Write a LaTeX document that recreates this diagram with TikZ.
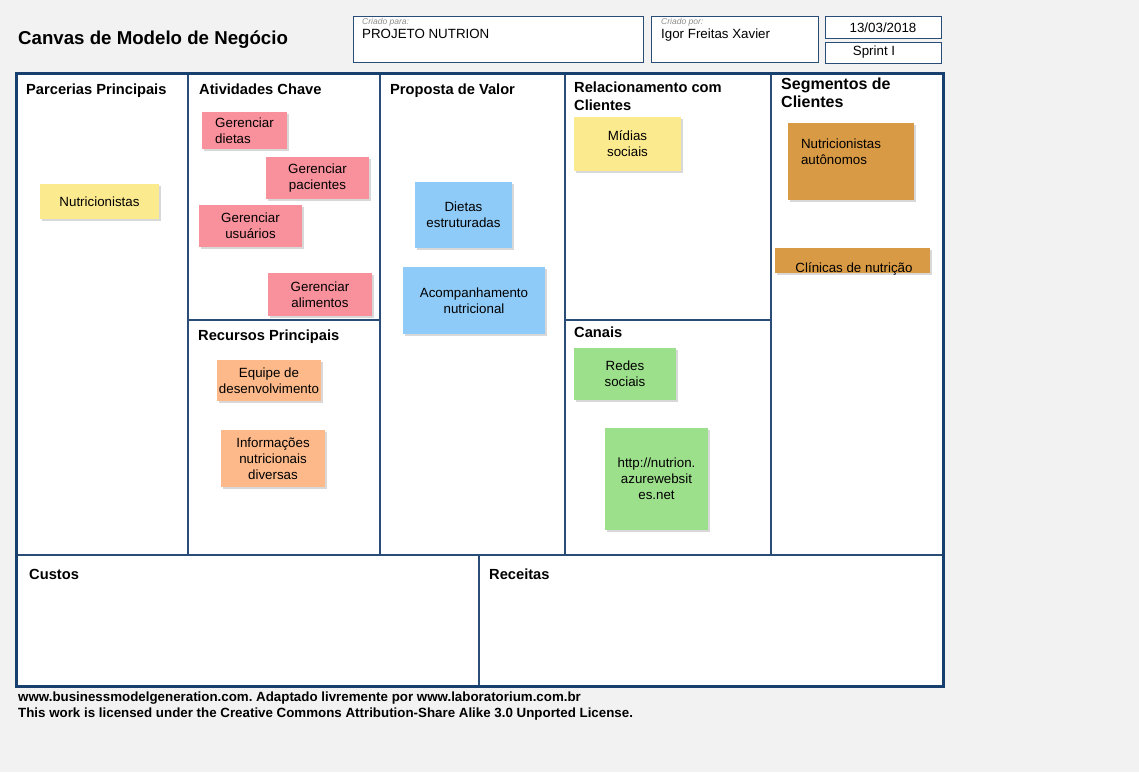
\documentclass[tikz,border=0pt]{standalone}
\usepackage{fontspec}
\setmainfont{Liberation Sans}
\usepackage{tikz}
\usetikzlibrary{positioning}
\usetikzlibrary{shadows}

\definecolor{pageGray}{HTML}{F2F2F2}
\definecolor{frameBlue}{HTML}{17406E}
\definecolor{lineBlue}{HTML}{2A4D78}
\definecolor{notePink}{HTML}{F9919D}
\definecolor{noteYellow}{HTML}{FCEA8F}
\definecolor{noteOrange}{HTML}{FDB98A}
\definecolor{noteBlue}{HTML}{8FCBF8}
\definecolor{noteGreen}{HTML}{9DE08C}
\definecolor{noteAmber}{HTML}{D99A45}

\newcommand{\headfont}{\fontsize{14.67}{18}\selectfont\bfseries}
\newcommand{\notefont}{\fontsize{13.33}{16}\selectfont}
\frenchspacing

\begin{document}
\begin{tikzpicture}[x=1pt, y=-1pt,
    frame/.style={draw=frameBlue, line width=3pt},
    divider/.style={draw=lineBlue, line width=1.6pt},
    infobox/.style={draw=lineBlue, line width=1.2pt, fill=white, inner sep=0pt, anchor=north west},
    heading/.style={anchor=base west, inner sep=0pt, align=left, font=\headfont},
    caption/.style={anchor=base west, inner sep=0pt, font=\fontsize{8.5}{9}\selectfont\itshape, text=black!45},
    plain/.style={inner sep=0pt, font=\notefont},
    note/.style={inner sep=0pt, align=center, font=\notefont,
        drop shadow={shadow xshift=1.5pt, shadow yshift=-1.5pt, opacity=0.3}}
]
    % Page
    \fill[pageGray] (0,0) rectangle (1139,772);
    \useasboundingbox (0,0) rectangle (1139,772);

    \node[anchor=base west, inner sep=0pt, font=\fontsize{18.67}{22}\selectfont\bfseries] (title) at (18,44) {Canvas de Modelo de Negócio};

    % Header boxes
    \node[infobox, minimum width=290, minimum height=46] (forbox) at (353,16) {};
    \node[infobox, minimum width=167, minimum height=46] (bybox) at (651,16) {};
    \node[infobox, minimum width=116, minimum height=22] (datebox) at (825,16) {};
    \node[infobox, minimum width=116, minimum height=21] (sprintbox) at (825,42) {};

    \node[caption] (forlabel) at (362,24) {Criado para:};
    \node[plain, anchor=base west] (project) at (362,38) {PROJETO NUTRION};
    \node[caption] (bylabel) at (661,24) {Criado por:};
    \node[plain, anchor=base west] (author) at (661,38) {Igor Freitas Xavier};
    \node[plain, anchor=base] (date) at (883,32) {13/03/2018};
    \node[plain, anchor=base] (sprint) at (874,55) {Sprint I};

    % Canvas
    \fill[white] (16,73) rectangle (943,686);
    \foreach \x in {188,380,565,771}{
        \draw[divider] (\x,73) -- (\x,555);
    }
    \draw[divider] (16,555) -- (943,555);
    \draw[divider] (188,320) -- (380,320);
    \draw[divider] (565,320) -- (771,320);
    \draw[divider] (479,555) -- (479,686);
    \draw[frame] (16,73) rectangle (943,686);

    % Block titles (multi-line ones sit on their last baseline)
    \node[heading] (partners) at (26,94) {Parcerias Principais};
    \node[heading] (activities) at (199,94) {Atividades Chave};
    \node[heading] (value) at (390,94) {Proposta de Valor};
    \node[heading] (relations) at (574,110) {Relacionamento com\\Clientes};
    \node[heading, font=\fontsize{16}{18}\selectfont\bfseries] (segments) at (781,107) {Segmentos de\\Clientes};
    \node[heading] (resources) at (198,340) {Recursos Principais};
    \node[heading] (channels) at (574,337) {Canais};
    \node[heading] (costs) at (29,579) {Custos};
    \node[heading] (revenue) at (489,579) {Receitas};

    % Sticky notes
    \node[note, fill=noteYellow, minimum width=119, minimum height=35] (nutri) at (99.5,201.5) {Nutricionistas};

    \node[note, fill=notePink, minimum width=85, minimum height=37, align=left] (dietas) at (244.5,130.5) {Gerenciar\\dietas};
    \node[note, fill=notePink, minimum width=103, minimum height=42] (pacientes) at (317.5,178) {Gerenciar\\pacientes};
    \node[note, fill=notePink, minimum width=103, minimum height=42] (usuarios) at (250.5,226) {Gerenciar\\usuários};
    \node[note, fill=notePink, minimum width=104, minimum height=43] (alimentos) at (320,294.5) {Gerenciar\\alimentos};

    \node[note, fill=noteOrange, minimum width=104, minimum height=41] (equipe) at (269,380.5) {Equipe de\\desenvolvimento};
    \node[note, fill=noteOrange, minimum width=104, minimum height=57] (info) at (273,458.5) {Informações\\nutricionais\\diversas};

    \node[note, fill=noteBlue, minimum width=97, minimum height=66] (estruturadas) at (463.5,215) {Dietas\\estruturadas};
    \node[note, fill=noteBlue, minimum width=142, minimum height=67] (acomp) at (474,300.5) {Acompanhamento\\nutricional};

    \node[note, fill=noteYellow, minimum width=107, minimum height=54] (midias) at (627.5,144) {Mídias\\sociais};

    \node[note, fill=noteGreen, minimum width=102, minimum height=52] (redes) at (625,374) {Redes\\sociais};
    \node[note, fill=noteGreen, minimum width=103, minimum height=102] (site) at (656.5,479) {http://nutrion.\\azurewebsit\\es.net};

    \node[note, fill=noteAmber, minimum width=126, minimum height=77] (autonomos) at (851,161.5) {};
    \node[plain, align=left, anchor=north west] (autonomostext) at ([xshift=13pt, yshift=-16pt]autonomos.north west) {Nutricionistas\\autônomos};
    \node[note, fill=noteAmber, minimum width=155, minimum height=25] (clinicas) at (852.5,260.5) {};
    \node[plain, anchor=base] (clinicastext) at (854,272) {Clínicas de nutrição};

    % Footer
    \node[anchor=base west, inner sep=0pt, align=left, font=\fontsize{13.33}{16}\selectfont\bfseries] (footer) at (18,717)
        {www.businessmodelgeneration.com. Adaptado livremente por www.laboratorium.com.br\\
         This work is licensed under the Creative Commons Attribution-Share Alike 3.0 Unported License.};
\end{tikzpicture}
\end{document}
